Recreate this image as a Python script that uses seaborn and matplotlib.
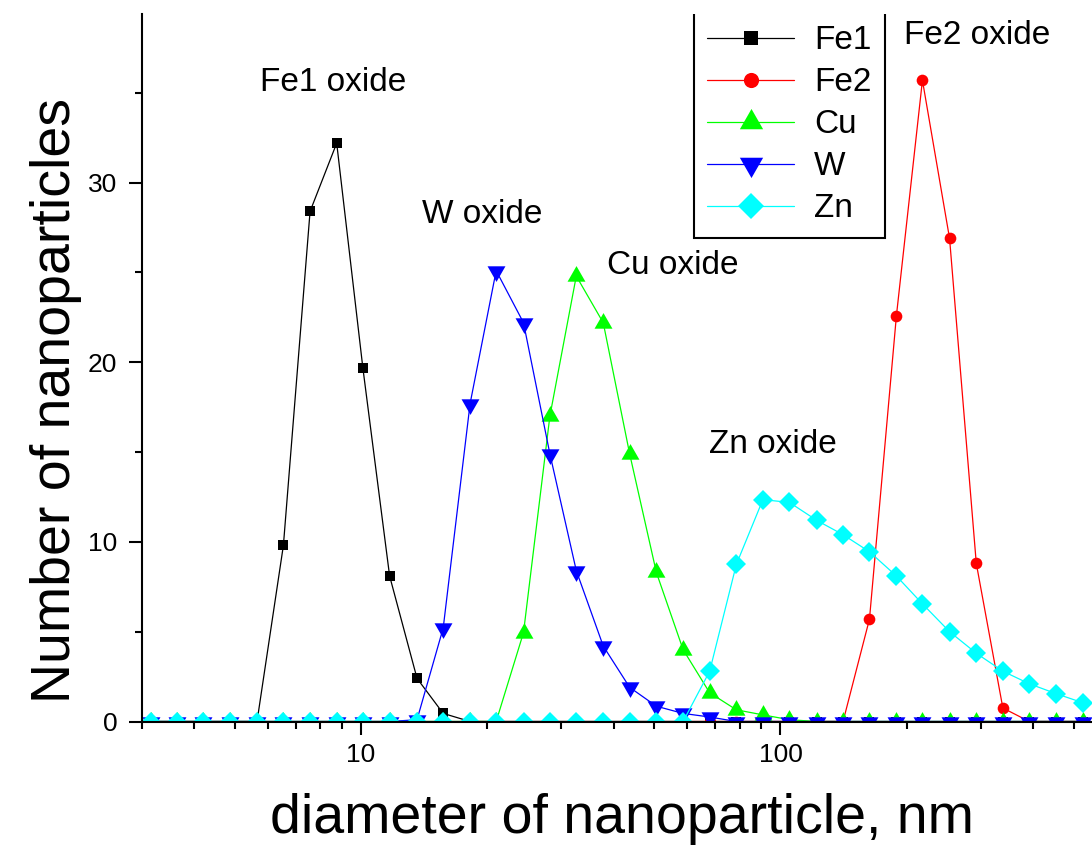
import matplotlib
matplotlib.use("Agg")
import matplotlib.pyplot as plt
import matplotlib.ticker as mticker
import seaborn as sns

# diameter grid (nm), shared by all samples
diameter = [3.15, 3.64, 4.21, 4.88, 5.65, 6.53, 7.56, 8.75, 10.1, 11.7, 13.6, 15.7,
            18.2, 21.0, 24.4, 28.2, 32.6, 37.8, 43.7, 50.6, 58.6, 67.8, 78.5, 90.8,
            105, 122, 141, 163, 189, 218, 253, 293, 339, 392, 454, 525]

fe1 = [0, 0, 0, 0, 0, 9.8, 28.4, 32.2, 19.7, 8.1, 2.4, 0.45,
       0, 0, 0, 0, 0, 0, 0, 0, 0, 0, 0, 0,
       0, 0, 0, 0, 0, 0, 0, 0, 0, 0, 0, 0]
fe2 = [0, 0, 0, 0, 0, 0, 0, 0, 0, 0, 0, 0,
       0, 0, 0, 0, 0, 0, 0, 0, 0, 0, 0, 0,
       0, 0, 0, 5.7, 22.6, 35.7, 26.9, 8.8, 0.75, 0, 0, 0]
cu = [0, 0, 0, 0, 0, 0, 0, 0, 0, 0, 0, 0,
      0, 0, 4.95, 17.0, 24.8, 22.2, 14.9, 8.3, 4.0, 1.6, 0.65, 0.37,
      0.1, 0, 0, 0, 0, 0, 0, 0, 0, 0, 0, 0]
w = [0, 0, 0, 0, 0, 0, 0, 0, 0, 0, 0.1, 5.2,
     17.7, 25.1, 22.2, 14.9, 8.4, 4.2, 1.9, 0.85, 0.45, 0.25, 0, 0,
     0, 0, 0, 0, 0, 0, 0, 0, 0, 0, 0, 0]
zn = [0, 0, 0, 0, 0, 0, 0, 0, 0, 0, 0, 0,
      0, 0, 0, 0, 0, 0, 0, 0, 0, 2.8, 8.75, 12.35,
      12.2, 11.2, 10.4, 9.45, 8.1, 6.55, 5.0, 3.8, 2.8, 2.1, 1.55, 1.05]

names = ["Fe1", "Fe2", "Cu", "W", "Zn"]
colors = ["black", "#ff0000", "#00ff00", "#0000ff", "#00ffff"]

# triangles are centred on their centroid, as in the original software
tri_up = [(0, 10.47), (-9, -5.23), (9, -5.23), (0, 10.47)]
tri_down = [(0, -10.47), (-9, 5.23), (9, 5.23), (0, -10.47)]
markers = ["s", "o", tri_up, tri_down, "D"]
msizes = [7.9, 8.4, 15.0, 15.0, 10.2]

# peak labels
ann_text = ["Fe1 oxide", "W oxide", "Cu oxide", "Zn oxide", "Fe2 oxide"]
ann_x = [8.58, 19.4, 55.5, 95.7, 295]
ann_y = [35.6, 28.2, 25.4, 15.4, 38.2]

sns.set_theme(style="ticks")
plt.rcParams["font.family"] = ["Liberation Sans", "DejaVu Sans"]
plt.rcParams.update({
    "text.color": "black", "axes.labelcolor": "black",
    "xtick.color": "black", "ytick.color": "black",
    "xtick.labelsize": 19, "ytick.labelsize": 19,
})

fig = plt.figure(figsize=(10.92, 8.5), dpi=100)
ax = fig.add_axes([141.7 / 1092, (850 - 721.5) / 850, (1092 - 141.7) / 1092, (721.5 - 14) / 850])

for name, vals, col, mk, ms in zip(names, [fe1, fe2, cu, w, zn], colors, markers, msizes):
    sns.lineplot(x=diameter, y=vals, ax=ax, color=col, marker=mk, markersize=ms,
                 markeredgecolor=col, markeredgewidth=0, linewidth=0.9, label=name)

ax.set_xscale("log")
ax.set_xlim(3, 553)
ax.set_ylim(0, 39.39)

ax.xaxis.set_major_locator(mticker.LogLocator(base=10, numticks=10))
ax.xaxis.set_minor_locator(mticker.LogLocator(base=10, subs=range(2, 10), numticks=20))
ax.xaxis.set_major_formatter(mticker.FuncFormatter(lambda v, p: f"{v:g}"))
ax.xaxis.set_minor_formatter(mticker.NullFormatter())
ax.yaxis.set_major_locator(mticker.MultipleLocator(10))
ax.yaxis.set_minor_locator(mticker.MultipleLocator(5))

ax.tick_params(which="major", length=9.5, width=1.5, labelsize=19, direction="out",
               color="black", labelcolor="black")
ax.tick_params(which="minor", length=4.8, width=1.5, direction="out", color="black")
ax.tick_params(axis="y", which="major", pad=8)
ax.tick_params(axis="x", which="major", pad=6)

for s in ["top", "right"]:
    ax.spines[s].set_visible(False)
for s in ["left", "bottom"]:
    ax.spines[s].set_linewidth(1.5)
    ax.spines[s].set_color("black")

ax.set_xlabel("diameter of nanoparticle, nm", fontsize=40)
ax.set_ylabel("Number of nanoparticles", fontsize=40)
ax.xaxis.set_label_coords(0.505, -0.101)
ax.yaxis.set_label_coords(-0.063, 0.4536)

for t, x, y in zip(ann_text, ann_x, ann_y):
    ax.text(x, y, t, fontsize=24, ha="center", va="center")

leg = ax.legend(loc="upper left", bbox_to_anchor=(694 / 1092, 1 - 12 / 850),
                bbox_transform=fig.transFigure, borderaxespad=0, frameon=True,
                fancybox=False, edgecolor="black", framealpha=1, fontsize=24,
                markerscale=1.3, handlelength=2.6, handletextpad=0.6,
                borderpad=0.4, labelspacing=0.33)
leg.get_frame().set_linewidth(1.5)
leg.get_frame().set_clip_box(ax.bbox)

fig.savefig("out.png", dpi=100)
